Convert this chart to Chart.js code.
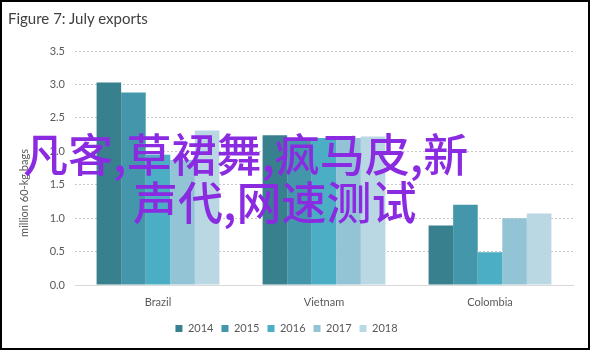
<!DOCTYPE html>
<html>
<head>
<meta charset="utf-8">
<script src="https://cdn.jsdelivr.net/npm/chart.js@4"></script>
<style>
  body { margin: 0; background: #fff; }
  #wrap { position: relative; width: 590px; height: 351px; }
  #frame { position: absolute; left: 0; top: 0; width: 586px; height: 346px; border: 2px solid #000; pointer-events: none; }
  #title { position: absolute; left: 8px; top: 9px; font: 15px Lato, "Open Sans", sans-serif; color: #404040; }
  .stamp { position: absolute; font-family: "Noto Sans CJK SC", sans-serif; font-weight: 500; font-size: 45px; color: #8a2be2; white-space: nowrap; line-height: 1; }
</style>
</head>
<body>
<div id="wrap">
  <canvas id="exportsChart" width="590" height="351"></canvas>
  <div id="title">Figure 7: July exports</div>
  <div class="stamp" style="left:23px; top:130px;">凡客,草裙舞,疯马皮,新</div>
  <div class="stamp" style="left:133px; top:178px;">声代,网速测试</div>
  <div id="frame"></div>
</div>
<script>
// data
const countries = ['Brazil', 'Vietnam', 'Colombia'];
const years = ['2014', '2015', '2016', '2017', '2018'];
const exports2014 = [3.03, 2.24, 0.89];
const exports2015 = [2.88, 2.20, 1.20];
const exports2016 = [1.95, 2.20, 0.49];
const exports2017 = [1.87, 2.20, 1.00];
const exports2018 = [2.31, 2.22, 1.07];
const yTicks = [0, 0.5, 1, 1.5, 2, 2.5, 3, 3.5];

const colors = ['#39808f', '#4497ab', '#4baec5', '#93c4d5', '#b9d8e3'];
const series = [exports2014, exports2015, exports2016, exports2017, exports2018];

// rotated y title, not centred on the plot in the original
const yTitle = {
    id: 'yTitle',
    afterDraw(chart) {
        const ctx = chart.ctx;
        ctx.save();
        ctx.translate(24, 193);
        ctx.rotate(-Math.PI / 2);
        ctx.font = '11px Lato, "Open Sans", sans-serif';
        ctx.fillStyle = '#595959';
        ctx.textAlign = 'center';
        ctx.textBaseline = 'middle';
        ctx.fillText('million 60-kg bags', 0, 0);
        ctx.restore();
    }
};

const ctx = document.getElementById('exportsChart').getContext('2d');
new Chart(ctx, {
    type: 'bar',
    data: {
        labels: countries,
        datasets: years.map((y, i) => ({
            label: y,
            data: series[i],
            backgroundColor: colors[i],
            barPercentage: 1,
            categoryPercentage: 0.74,
        }))
    },
    options: {
        responsive: false,
        animation: false,
        layout: { padding: { top: 51, right: 17, left: 0, bottom: 7 } },
        plugins: {
            title: { display: false },
            tooltip: { enabled: false },
            legend: {
                position: 'bottom',
                labels: {
                    boxWidth: 7,
                    boxHeight: 7,
                    padding: 8,
                    color: '#595959',
                    font: { family: 'Lato, "Open Sans", sans-serif', size: 11 }
                }
            }
        },
        scales: {
            x: {
                grid: { display: false },
                border: { display: true, color: '#d9d9d9', width: 1 },
                ticks: { color: '#595959', padding: 3, font: { family: 'Lato, "Open Sans", sans-serif', size: 11 } },
                afterFit(scale) { scale.height = 30; }
            },
            y: {
                min: 0,
                max: 3.5,
                afterBuildTicks(scale) { scale.ticks = yTicks.map(v => ({ value: v })); },
                grid: { color: '#c8c8c8', drawTicks: false },
                border: { display: false, dash: [2, 2] },
                ticks: {
                    color: '#595959',
                    padding: 10,
                    font: { family: 'Lato, "Open Sans", sans-serif', size: 11 },
                    callback: v => v.toFixed(1)
                },
                afterFit(scale) { scale.width = 75; }
            }
        }
    },
    plugins: [yTitle]
});
</script>
</body>
</html>
